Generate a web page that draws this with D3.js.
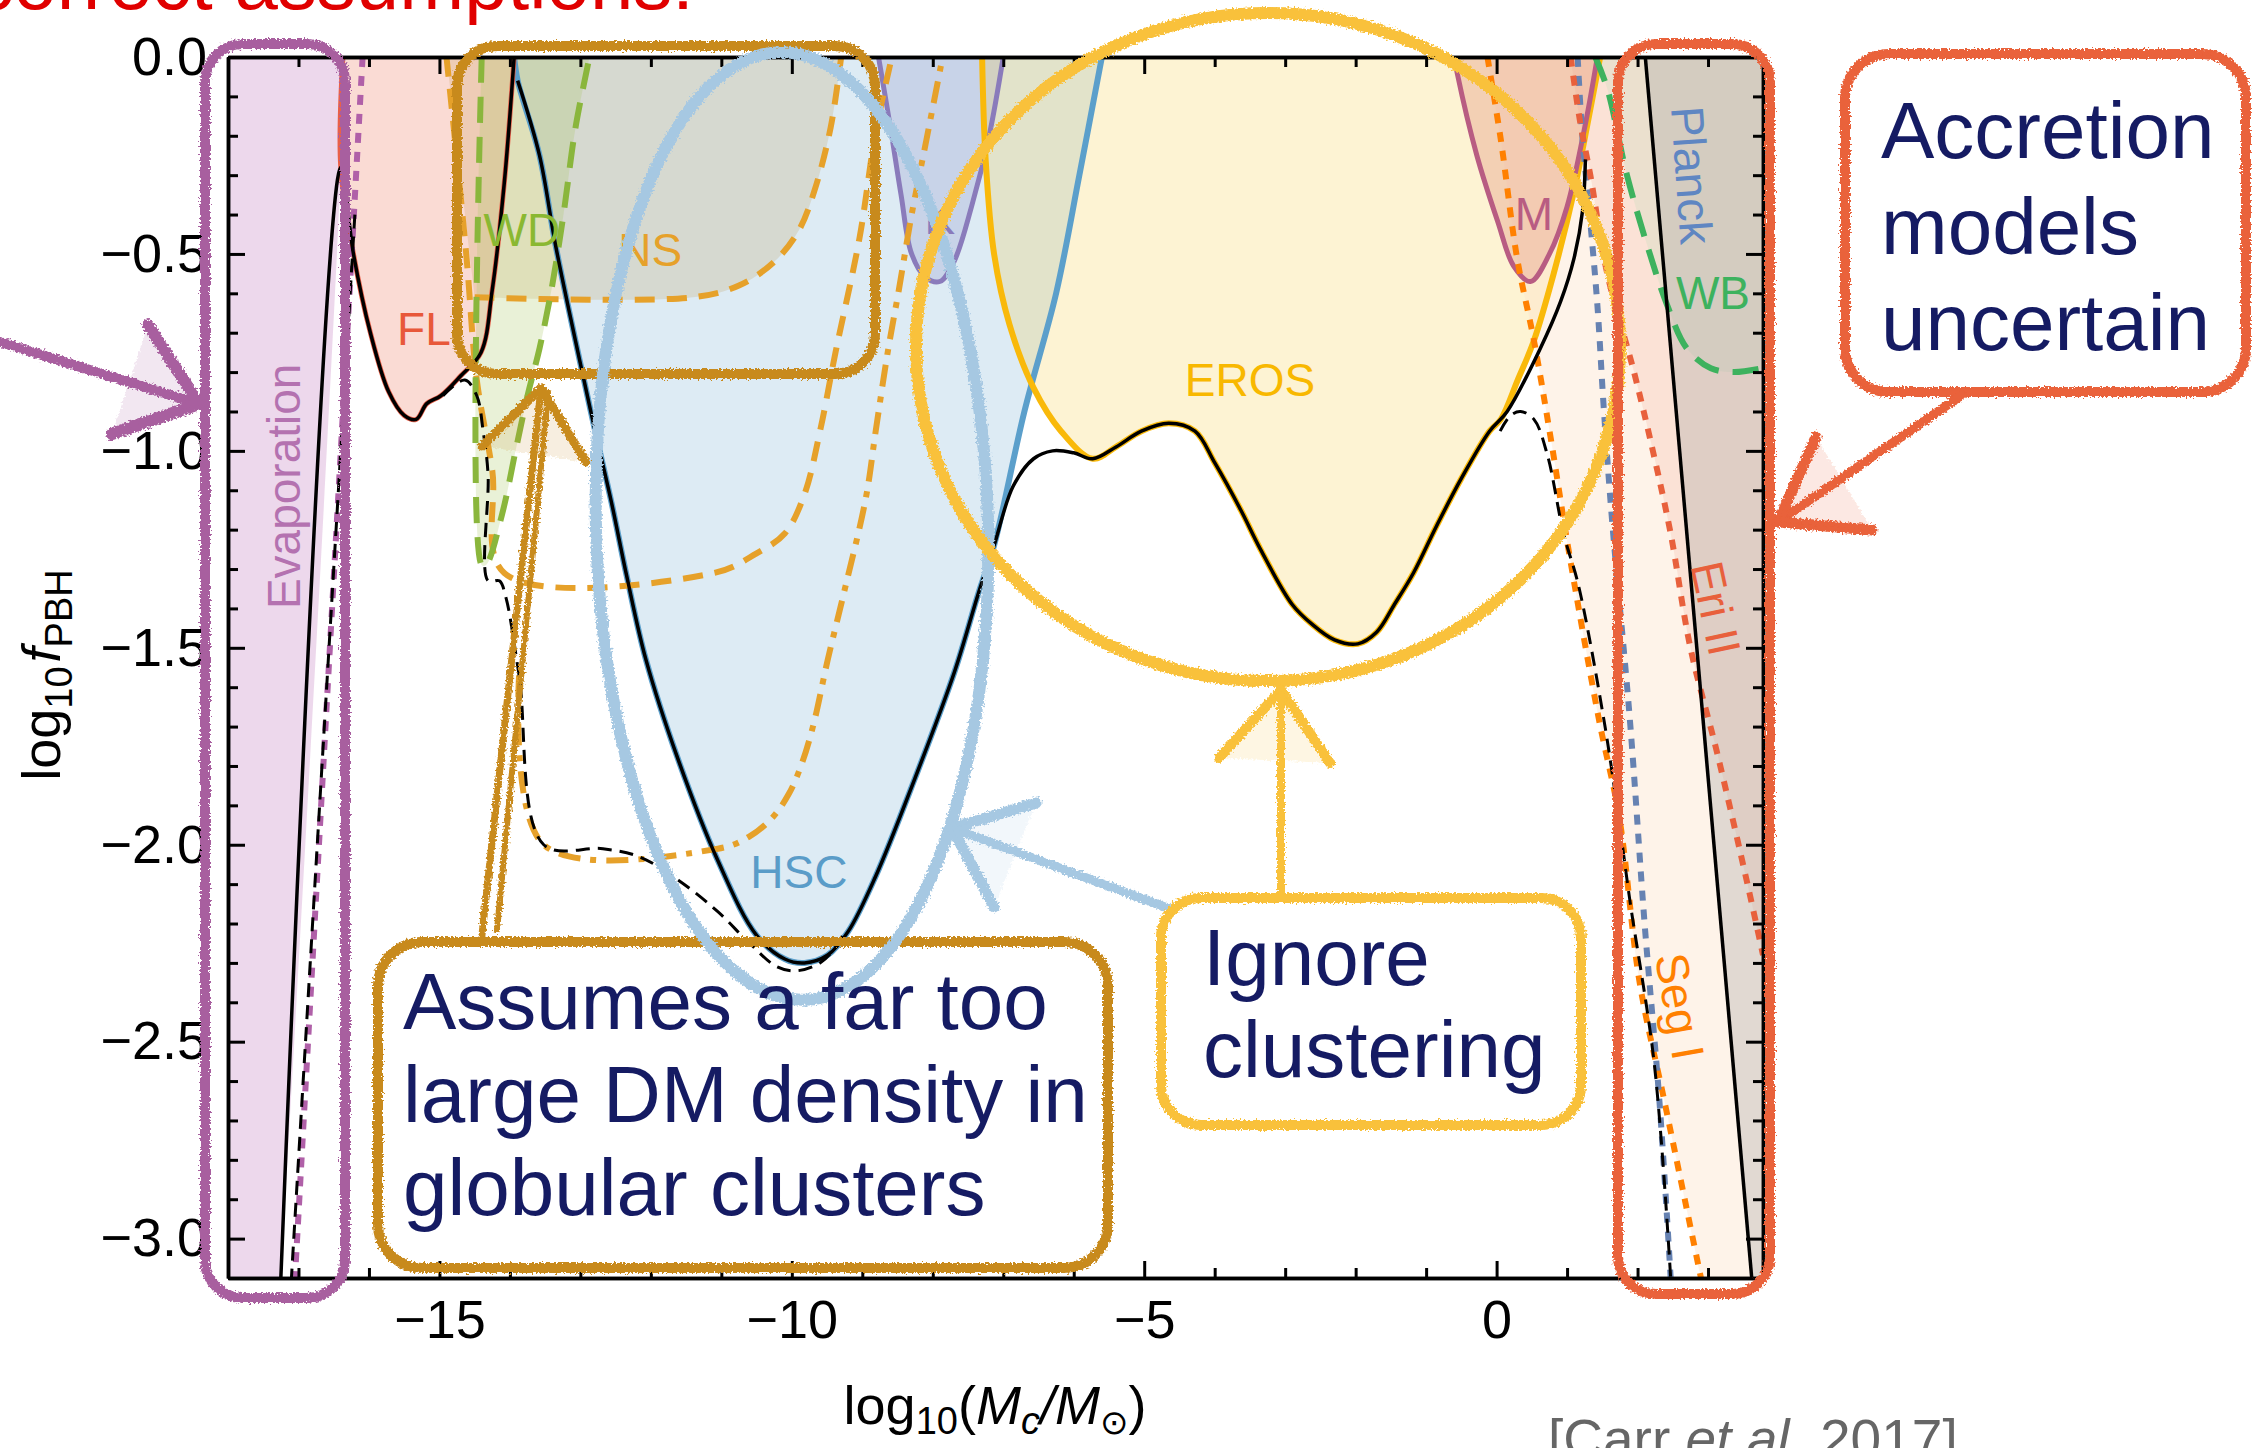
<!DOCTYPE html>
<html>
<head>
<meta charset="utf-8">
<script src="https://cdn.jsdelivr.net/npm/d3@7"></script>
<style>
  body { margin:0; background:#fff; }
  svg { display:block; }
  text { font-family: "Liberation Sans", Arial, sans-serif; }
</style>
</head>
<body>
<div id="chart-area"></div>
<script>
// ---- data (log10 M, log10 f) ----
var xTicksMajor = [-15, -10, -5, 0];
var xTicksMinor = [-18, -17, -16, -14, -13, -12, -11, -9, -8, -7, -6, -4, -3, -2, -1, 1, 2, 3];
var yTicksMajor = [0, -0.5, -1, -1.5, -2, -2.5, -3];
var yTicksMinor = [-0.1, -0.2, -0.3, -0.4, -0.6, -0.7, -0.8, -0.9, -1.1, -1.2, -1.3, -1.4, -1.6, -1.7,
                   -1.8, -1.9, -2.1, -2.2, -2.3, -2.4, -2.6, -2.7, -2.8, -2.9, -3.1];

var evapEdge = [[-16.37,0],[-16.4,-0.28],[-17.25,-3.1]];
var evapDotted = [[-16.09,0],[-17.05,-3.1]];
var flCurve = [[-16.37,0],[-16.4,-0.28],[-16.22,-0.5],[-15.98,-0.7],[-15.72,-0.85],[-15.5,-0.91],[-15.33,-0.92],
               [-15.18,-0.88],[-14.98,-0.86],[-14.7,-0.81],[-14.41,-0.75],[-14.25,-0.59],[-14.08,-0.32],[-13.94,0]];
var wdCurve = [[-14.4,0],[-14.4,-1.29],[-14.34,-1.29],[-14.11,-1.16],[-13.92,-1.0],[-13.75,-0.86],[-13.58,-0.74],
               [-13.41,-0.59],[-13.24,-0.4],[-13.07,-0.18],[-12.87,0]];
var ns1Curve = [[-14.5,-0.61],[-11.4,-0.61],[-10.75,-0.58],[-10.25,-0.52],[-9.9,-0.44],[-9.68,-0.34],[-9.45,-0.18],[-9.3,0]];
var ns2Curve = [[-14.9,0],[-14.62,-0.5],[-14.47,-0.82],[-14.25,-1.05],[-14.08,-1.31],[-11.1,-1.31],[-10.5,-1.26],
                [-10.1,-1.21],[-9.82,-1.11],[-9.6,-0.95],[-9.38,-0.75],[-9.04,-0.46],[-8.81,-0.19],[-8.58,0]];
var ns3Curve = [[-13.87,-1.57],[-13.52,-2.0],[-11.05,-2.01],[-10.61,-1.98],[-10.27,-1.93],[-10.04,-1.87],[-9.87,-1.8],
                [-9.7,-1.7],[-9.49,-1.53],[-9.26,-1.36],[-8.95,-1.12],[-8.81,-0.95],[-8.64,-0.75],[-8.48,-0.59],
                [-8.31,-0.41],[-8.09,-0.21],[-7.86,0]];
var hscCurve = [[-13.94,0],[-13.89,-0.06],[-13.58,-0.25],[-13.35,-0.48],[-13.01,-0.77],[-12.79,-0.95],[-12.56,-1.13],
                [-12.34,-1.32],[-12.07,-1.53],[-11.62,-1.78],[-11.05,-2.04],[-10.5,-2.23],[-10.1,-2.29],[-9.82,-2.3],
                [-9.49,-2.28],[-9.2,-2.22],[-8.81,-2.08],[-8.25,-1.83],[-7.69,-1.56],[-7.35,-1.36],[-7.13,-1.24],
                [-6.7,-0.9],[-6.25,-0.6],[-5.92,-0.3],[-5.6,0]];
var kCurve = [[-8.77,0],[-8.6,-0.18],[-8.45,-0.35],[-8.3,-0.5],[-8.1,-0.56],[-7.9,-0.57],[-7.7,-0.52],[-7.45,-0.38],[-7.2,-0.2],[-7.0,0]];
var erosCurve = [[-7.3,0],[-7.25,-0.26],[-7.13,-0.5],[-6.91,-0.68],[-6.57,-0.84],[-6.18,-0.95],[-5.73,-1.02],[-5.4,-0.99],
                 [-5.04,-0.95],[-4.65,-0.93],[-4.28,-0.95],[-4.0,-1.03],[-3.63,-1.15],[-3.35,-1.25],[-2.9,-1.39],[-2.62,-1.44],
                 [-2.3,-1.48],[-1.97,-1.49],[-1.7,-1.46],[-1.45,-1.39],[-1.18,-1.31],[-0.85,-1.19],[-0.5,-1.07],[-0.1,-0.95],
                 [0.06,-0.92],[0.3,-0.82],[0.53,-0.72],[0.81,-0.55],[1.1,-0.34],[1.29,-0.17],[1.47,0]];
var mCurve = [[-0.6,0],[-0.56,-0.04],[-0.28,-0.25],[0.02,-0.42],[0.24,-0.53],[0.48,-0.57],[0.75,-0.5],[1.0,-0.38],[1.26,-0.17],[1.43,0]];
var segICurve = [[-0.13,0],[0.06,-0.21],[0.29,-0.51],[0.53,-0.72],[0.77,-0.97],[1.02,-1.25],[1.45,-1.68],[1.74,-1.93],
                 [2.03,-2.35],[2.38,-2.65],[2.9,-3.1]];
var xrayDotted = [[1.15,0],[1.22,-0.21],[1.31,-0.38],[1.43,-0.63],[1.52,-0.89],[1.64,-1.18],[1.89,-1.68],[2.1,-2.2],[2.31,-2.65],[2.47,-3.1]];
var eriCurve = [[1.05,0],[1.19,-0.17],[1.33,-0.3],[1.57,-0.55],[1.95,-0.8],[2.23,-1.01],[2.47,-1.21],[2.75,-1.5],
                [3.12,-1.76],[3.56,-2.1],[3.78,-2.28]];
var wbCurve = [[1.4,0],[1.57,-0.08],[1.85,-0.3],[2.14,-0.48],[2.42,-0.63],[2.7,-0.74],[3.04,-0.79],[3.37,-0.8],[3.78,-0.79]];
var planckEdge = [[2.11,0],[3.62,-3.1]];

// combined constraints (solid = standard, dashed = alternative)
var envSolidLeft = [[-17.25,-3.1]].concat(flCurve.slice(1));
var envSolidMid = [[-13.89,-0.06],[-13.58,-0.25],[-13.35,-0.48],[-13.01,-0.77],[-12.79,-0.95],[-12.56,-1.13],[-12.34,-1.32],
                   [-12.07,-1.53],[-11.62,-1.78],[-11.05,-2.04],[-10.5,-2.23],[-10.1,-2.29],[-9.82,-2.3],[-9.49,-2.28],
                   [-9.2,-2.22],[-8.81,-2.08],[-8.25,-1.83],[-7.69,-1.56],[-7.35,-1.36],[-7.13,-1.24],[-6.86,-1.09],
                   [-6.57,-1.02],[-6.3,-1.0],[-6.0,-1.005],[-5.73,-1.02],[-5.4,-0.99],[-5.04,-0.95],[-4.65,-0.93],
                   [-4.28,-0.95],[-4.0,-1.03],[-3.63,-1.15],[-3.35,-1.25],[-2.9,-1.39],[-2.62,-1.44],[-2.3,-1.48],
                   [-1.97,-1.49],[-1.7,-1.46],[-1.45,-1.39],[-1.18,-1.31],[-0.85,-1.19],[-0.5,-1.07],[-0.1,-0.95],
                   [0.15,-0.9],[0.62,-0.74],[0.91,-0.62],[1.1,-0.51],[1.22,-0.39],[1.26,-0.26]];
var envDashLeft = [[-16.2,-0.4],[-17.1,-3.1]];
var envDashMid = [[-14.95,-0.86],[-14.64,-0.82],[-14.47,-0.86],[-14.38,-0.95],[-14.31,-1.06],[-14.31,-1.33],[-14.15,-1.33],
                  [-14.06,-1.37],[-13.87,-1.57],[-13.52,-2.0],[-12.68,-2.01],[-12.17,-2.03],[-11.61,-2.09],[-11.05,-2.17],
                  [-10.6,-2.25],[-10.21,-2.31],[-9.93,-2.32],[-9.6,-2.3],[-9.38,-2.26],[-9.25,-2.22]];
var envDashRight = [[0.05,-0.95],[0.2,-0.91],[0.34,-0.9],[0.53,-0.92],[0.72,-1.01],[0.95,-1.21],[1.16,-1.34],[1.52,-1.68],
                    [1.73,-1.93],[1.89,-2.14],[2.24,-2.56],[2.47,-3.1]];

var regionNames = ["Evaporation","FL","WD","NS","K","HSC","EROS","M","Planck","WB","Eri II","Seg I"];
var regionAnchors = [[-17.2,-1.09],[-15.22,-0.73],[-13.83,-0.48],[-12.01,-0.53],[-7.9,-0.45],[-9.9,-2.11],
                     [-3.5,-0.86],[0.53,-0.44],[2.77,-0.3],[3.07,-0.64],[3.11,-1.4],[2.6,-2.41]];

// ---- layout ----
var W = 2252, H = 1448;
var margin = { top:57, left:228, right:W-1763, bottom:H-1278 };
var width = W - margin.left - margin.right;
var height = H - margin.top - margin.bottom;

var svg = d3.select("#chart-area").append("svg")
    .attr("width", W)
    .attr("height", H);

var defs = svg.append("defs");
defs.append("clipPath").attr("id","plotclip")
  .append("rect").attr("width", width).attr("height", height);
var chalk = defs.append("filter").attr("id","chalk")
  .attr("filterUnits","userSpaceOnUse").attr("x",0).attr("y",0).attr("width",W).attr("height",H);
chalk.append("feTurbulence").attr("type","fractalNoise").attr("baseFrequency",0.5)
  .attr("numOctaves",2).attr("seed",4).attr("result","noise");
chalk.append("feDisplacementMap").attr("in","SourceGraphic").attr("in2","noise")
  .attr("scale",7).attr("xChannelSelector","R").attr("yChannelSelector","G");

var x = d3.scaleLinear().domain([-18, 3.78]).range([0, width]);
var y = d3.scaleLinear().domain([-3.1, 0]).range([height, 0]);

var g = svg.append("g")
  .attr("transform", "translate(" + margin.left + "," + margin.top + ")");

var line = d3.line()
  .x(function(d){ return x(d[0]); })
  .y(function(d){ return y(d[1]); })
  .curve(d3.curveCatmullRom.alpha(0.5));

function region(pts, extra) {
  return line(pts) + extra.map(function(p){ return "L" + x(p[0]) + "," + y(p[1]); }).join("") + "Z";
}

var plot = g.append("g").attr("clip-path", "url(#plotclip)");

// filled regions
var fills = [
  [evapEdge, [[-18,-3.1],[-18,0]], "#c98ac4", 0.33],
  [flCurve, [], "#ee8870", 0.3],
  [hscCurve, [], "#6aa8d0", 0.23],
  [ns1Curve, [[-14.9,0]], "#c09040", 0.2],
  [wdCurve, [], "#a8c860", 0.25],
  [kCurve, [], "#7f80c0", 0.22],
  [erosCurve, [], "#f8c838", 0.22],
  [segICurve, [[3.78,-3.1],[3.78,0]], "#fde3cb", 0.42],
  [mCurve, [], "#e0907a", 0.35],
  [eriCurve, [[3.78,0]], "#f0a890", 0.22],
  [wbCurve, [[3.78,0]], "#b0dcb0", 0.2],
  [planckEdge, [[3.78,-3.1],[3.78,0]], "#a0a0a0", 0.3]
];
fills.forEach(function(f){
  plot.append("path").attr("d", region(f[0], f[1]))
    .attr("fill", f[2]).attr("fill-opacity", f[3]).attr("stroke", "none");
});

// boundary lines
var strokes = [
  [hscCurve, "#5b9fcb", 6, null],
  [kCurve, "#8a7bbb", 5, null],
  [erosCurve, "#f9b90a", 6, null],
  [mCurve, "#b85c82", 5, null],
  [flCurve, "#e8604a", 5, null],
  [ns1Curve, "#e6a12a", 6, "20,12"],
  [ns2Curve, "#e6a12a", 6, "20,12"],
  [ns3Curve, "#e6a12a", 6, "22,10,6,10"],
  [wdCurve, "#8ab63c", 6, "26,14"],
  [segICurve, "#ff8000", 6, "10,9"],
  [xrayDotted, "#6682b2", 6, "10,9"],
  [eriCurve, "#e8603c", 6, "10,9"],
  [wbCurve, "#3db25e", 6, "26,14"],
  [evapDotted, "#b060a8", 6, "10,9"],
  [envDashLeft, "#000", 3, "14,8"],
  [envDashMid, "#000", 3, "14,8"],
  [envDashRight, "#000", 3, "14,8"],
  [envSolidLeft, "#000", 3.5, null],
  [envSolidMid, "#000", 3.5, null],
  [planckEdge, "#000", 3.5, null]
];
strokes.forEach(function(s){
  plot.append("path").attr("d", line(s[0]))
    .attr("fill", "none").attr("stroke", s[1]).attr("stroke-width", s[2])
    .attr("stroke-dasharray", s[3]);
});

// region labels
var labelColors = ["#b472b0","#e8583a","#8ab832","#e6a12a","#8a7bbb","#5a9cc8","#f8b800","#b85c82","#5f86c2","#3db25e","#e8603c","#ff8000"];
var labelRotate = [-90, 0, 0, 0, 0, 0, 0, 0, 86, 0, 78, 80];
regionNames.forEach(function(name, i){
  var px = x(regionAnchors[i][0]), py = y(regionAnchors[i][1]);
  var rot = labelRotate[i];
  plot.append("text")
    .attr("x", px).attr("y", py)
    .attr("text-anchor", "middle")
    .attr("dy", rot !== 0 ? "0.35em" : 0)
    .attr("transform", rot !== 0 ? "rotate(" + rot + "," + px + "," + py + ")" : null)
    .attr("font-size", "46px")
    .attr("fill", labelColors[i])
    .text(name);
});

// axes (frame with inward ticks on all sides)
function styleAxis(sel, labels) {
  sel.select(".domain").attr("stroke", "#000").attr("stroke-width", 3.5);
  sel.selectAll(".tick line").attr("stroke", "#000").attr("stroke-width", 3);
  sel.selectAll("text").attr("font-size", labels ? "54px" : 0).attr("fill", "#000")
    .style("font-family", "'Liberation Sans', Arial, sans-serif");
}
g.append("g").attr("transform", "translate(0," + height + ")")
  .call(d3.axisBottom(x).tickValues(xTicksMinor).tickSizeInner(-10).tickSizeOuter(0).tickFormat(""))
  .call(styleAxis, false);
g.append("g").attr("transform", "translate(0," + height + ")")
  .call(d3.axisBottom(x).tickValues(xTicksMajor).tickSizeInner(-17).tickSizeOuter(0)
        .tickPadding(22).tickFormat(d3.format("d")))
  .call(styleAxis, true);
g.append("g")
  .call(d3.axisTop(x).tickValues(xTicksMinor).tickSizeInner(-10).tickSizeOuter(0).tickFormat(""))
  .call(styleAxis, false);
g.append("g")
  .call(d3.axisTop(x).tickValues(xTicksMajor).tickSizeInner(-17).tickSizeOuter(0).tickFormat(""))
  .call(styleAxis, false);
g.append("g")
  .call(d3.axisLeft(y).tickValues(yTicksMinor).tickSizeInner(-10).tickSizeOuter(0).tickFormat(""))
  .call(styleAxis, false);
g.append("g")
  .call(d3.axisLeft(y).tickValues(yTicksMajor).tickSizeInner(-17).tickSizeOuter(0)
        .tickPadding(21).tickFormat(d3.format(".1f")))
  .call(styleAxis, true);
g.append("g").attr("transform", "translate(" + width + ",0)")
  .call(d3.axisRight(y).tickValues(yTicksMinor).tickSizeInner(-10).tickSizeOuter(0).tickFormat(""))
  .call(styleAxis, false);
g.append("g").attr("transform", "translate(" + width + ",0)")
  .call(d3.axisRight(y).tickValues(yTicksMajor).tickSizeInner(-17).tickSizeOuter(0).tickFormat(""))
  .call(styleAxis, false);

// axis titles
var yTitle = svg.append("text")
  .attr("transform", "translate(60,675) rotate(-90)")
  .attr("text-anchor", "middle").attr("font-size", "54px").attr("fill", "#000");
yTitle.append("tspan").text("log");
yTitle.append("tspan").attr("font-size", "38px").attr("dy", 12).text("10");
yTitle.append("tspan").attr("font-style", "italic").attr("dy", -12).attr("dx", 4).text("f");
yTitle.append("tspan").attr("font-size", "38px").attr("dy", 12).text("PBH");

var xTitle = svg.append("text")
  .attr("x", 995).attr("y", 1424)
  .attr("text-anchor", "middle").attr("font-size", "54px").attr("fill", "#000");
xTitle.append("tspan").text("log");
xTitle.append("tspan").attr("font-size", "38px").attr("dy", 10).text("10");
xTitle.append("tspan").attr("dy", -10).text("(");
xTitle.append("tspan").attr("font-style", "italic").text("M");
xTitle.append("tspan").attr("font-style", "italic").attr("font-size", "38px").attr("dy", 10).text("c");
xTitle.append("tspan").attr("font-style", "italic").attr("dy", -10).text("/M");
xTitle.append("tspan").attr("font-size", "34px").attr("dy", 10).style("font-family", "'DejaVu Sans'").text("\u2299");
xTitle.append("tspan").attr("dy", -10).text(")");

var credit = svg.append("text")
  .attr("x", 1548).attr("y", 1458).attr("font-size", "55px").attr("fill", "#666");
credit.append("tspan").text("[Carr ");
credit.append("tspan").attr("font-style", "italic").text("et al.");
credit.append("tspan").text(" 2017]");

svg.append("text")
  .attr("x", 694).attr("y", 9).attr("text-anchor", "end")
  .attr("font-size", "78px").attr("fill", "#e00000")
  .text("based on incorrect assumptions!");

// ---- hand-drawn annotations (pixel layout) ----
var ann = svg.append("g").attr("filter", "url(#chalk)")
  .attr("fill", "none").attr("stroke-linecap", "round").attr("stroke-linejoin", "round");

var boxes = [
  { x:205, y:44, w:140, h:1254, r:38, c:"#a85f9f" },
  { x:457, y:46, w:418, h:328, r:40, c:"#c88a1f" },
  { x:378, y:942, w:730, h:326, r:44, c:"#c88a1f" },
  { x:1161, y:898, w:420, h:227, r:40, c:"#f9c13a" },
  { x:1618, y:44, w:152, h:1250, r:38, c:"#e9623a" },
  { x:1845, y:54, w:401, h:338, r:44, c:"#e9623a" }
];
var ellipses = [
  { cx:792, cy:526, rx:196, ry:474, rot:-1.5, c:"#a6c8e2" },
  { cx:1268, cy:347, rx:352, ry:334, rot:0, c:"#f9c13a" }
];
var arrows = [
  { from:[0,342], tip:[199,404], barbs:[[148,325],[112,434]], c:"#a85f9f", w:10 },
  { from:[482,935], tip:[541,388], barbs:[[482,446],[586,462]], c:"#c88a1f", w:7 },
  { from:[497,930], tip:[548,393], barbs:[], c:"#c88a1f", w:6 },
  { from:[1173,910], tip:[952,828], barbs:[[1036,803],[994,907]], c:"#a6c8e2", w:9 },
  { from:[1281,893], tip:[1281,690], barbs:[[1219,758],[1330,763]], c:"#f9c13a", w:8 },
  { from:[1962,395], tip:[1778,522], barbs:[[1816,437],[1872,530]], c:"#e9623a", w:9 }
];

function drawBox(b) {
  ann.append("rect").attr("x", b.x).attr("y", b.y).attr("width", b.w).attr("height", b.h)
    .attr("rx", b.r).attr("stroke", b.c).attr("stroke-width", 10);
  ann.append("rect").attr("x", b.x + 2).attr("y", b.y - 2).attr("width", b.w - 3).attr("height", b.h + 3)
    .attr("rx", b.r).attr("stroke", b.c).attr("stroke-width", 4).attr("stroke-opacity", 0.7);
}
function drawEllipse(e) {
  ann.append("ellipse").attr("cx", e.cx).attr("cy", e.cy).attr("rx", e.rx).attr("ry", e.ry)
    .attr("transform", "rotate(" + e.rot + "," + e.cx + "," + e.cy + ")")
    .attr("stroke", e.c).attr("stroke-width", 12);
}
function drawArrow(a) {
  ann.append("line").attr("x1", a.from[0]).attr("y1", a.from[1]).attr("x2", a.tip[0]).attr("y2", a.tip[1])
    .attr("stroke", a.c).attr("stroke-width", a.w);
  a.barbs.forEach(function(b){
    ann.append("path")
      .attr("d", "M" + b[0] + "," + b[1] + "L" + a.tip[0] + "," + a.tip[1])
      .attr("stroke", a.c).attr("stroke-width", a.w + 2);
  });
  if (a.barbs.length) {
    ann.append("path")
      .attr("d", "M" + a.barbs[0] + "L" + a.tip + "L" + a.barbs[1])
      .attr("stroke", "none").attr("fill", a.c).attr("fill-opacity", 0.15);
  }
}

drawBox(boxes[0]);
drawArrow(arrows[0]);
drawBox(boxes[1]);
drawArrow(arrows[1]);
drawArrow(arrows[2]);
drawBox(boxes[2]);
drawEllipse(ellipses[0]);
drawArrow(arrows[3]);
drawEllipse(ellipses[1]);
drawArrow(arrows[4]);
drawBox(boxes[3]);
drawBox(boxes[4]);
drawBox(boxes[5]);
drawArrow(arrows[5]);

// annotation texts
var notes = [
  { x:403, y0:1029, dy:93, lines:["Assumes a far too","large DM density in","globular clusters"] },
  { x:1203, y0:985, dy:92, lines:["Ignore","clustering"] },
  { x:1881, y0:158, dy:96, lines:["Accretion","models","uncertain"] }
];
notes.forEach(function(n){
  n.lines.forEach(function(t, i){
    svg.append("text").attr("x", n.x).attr("y", n.y0 + i * n.dy)
      .attr("font-size", "80px").attr("fill", "#151b63").text(t);
  });
});
</script>
</body>
</html>
